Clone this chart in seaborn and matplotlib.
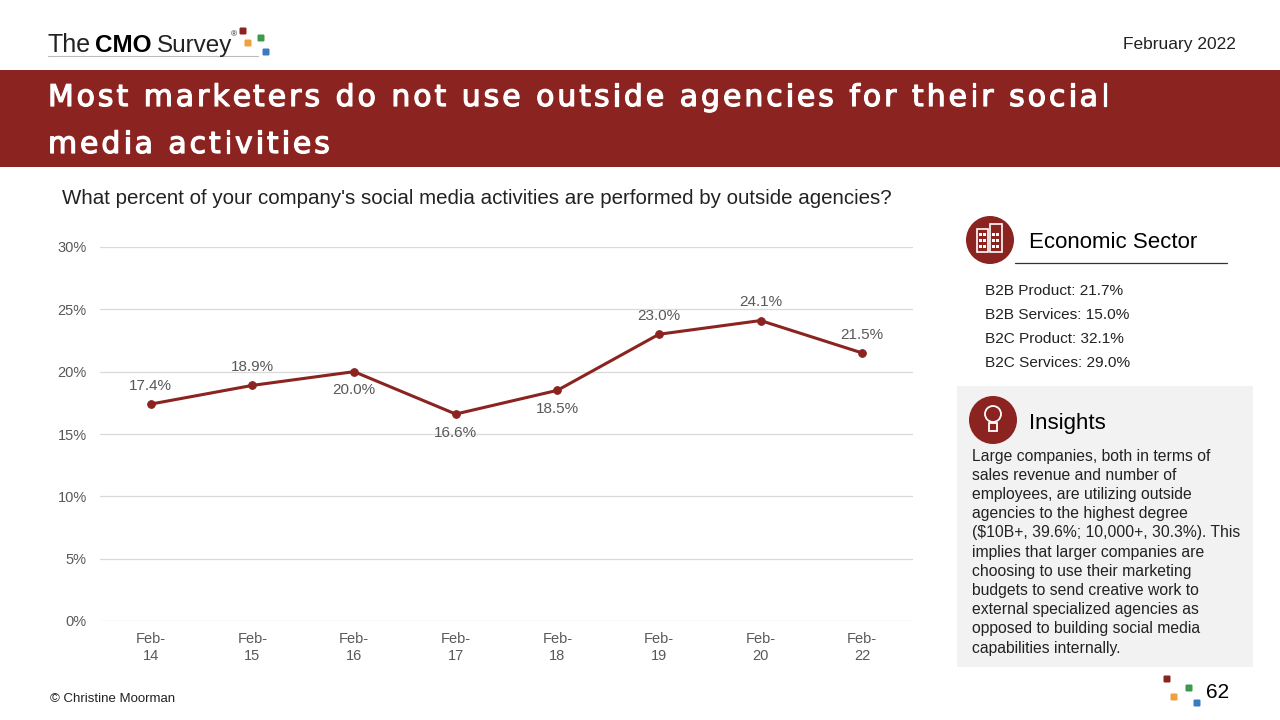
import pandas as pd
import seaborn as sns
import matplotlib.pyplot as plt
import matplotlib.patheffects as pe
from matplotlib.patches import Rectangle, Circle, FancyBboxPatch
from matplotlib.font_manager import FontProperties

# Data
years = ["Feb-\n14", "Feb-\n15", "Feb-\n16", "Feb-\n17", "Feb-\n18", "Feb-\n19", "Feb-\n20", "Feb-\n22"]
pct_outside = [17.4, 18.9, 20.0, 16.6, 18.5, 23.0, 24.1, 21.5]
label_above = [True, True, False, False, False, True, True, True]

title_lines = ["Most marketers do not use outside agencies for their social", "media activities"]
sectors = ["B2B Product: 21.7%", "B2B Services: 15.0%", "B2C Product: 32.1%", "B2C Services: 29.0%"]
insight_lines = [
    "Large companies, both in terms of",
    "sales revenue and number of",
    "employees, are utilizing outside",
    "agencies to the highest degree",
    "($10B+, 39.6%; 10,000+, 30.3%). This",
    "implies that larger companies are",
    "choosing to use their marketing",
    "budgets to send creative work to",
    "external specialized agencies as",
    "opposed to building social media",
    "capabilities internally.",
]

RED = "#8B2320"
GREY_TXT = "#595959"
SQUARES = [RED, "#F0A040", "#3E9A4A", "#3A7CC0"]

sns.set_style("white")
plt.rcParams['font.family'] = ['Liberation Sans', 'DejaVu Sans']

df = pd.DataFrame({"year": years, "pct": pct_outside})

fig = plt.figure(figsize=(12.8, 7.2), dpi=100)
renderer = fig.canvas.get_renderer()


def text_w(s, prop):
    # width in pixels, "|" sentinel keeps trailing spaces counted
    w_bar = renderer.get_text_width_height_descent("|", prop, ismath=False)[0]
    return renderer.get_text_width_height_descent(s + "|", prop, ismath=False)[0] - w_bar


def tracked_text(ax, x, y, s, prop, tracking, **kw):
    # the slide title has a little letter spacing, so place char by char
    for i, c in enumerate(s):
        if c != " ":
            ax.text(x + text_w(s[:i], prop) + i * tracking, y, c, fontproperties=prop, ha="left", **kw)


# overlay in pixel coordinates for the slide decoration
bg = fig.add_axes([0, 0, 1, 1], zorder=0)
bg.set_xlim(0, 1280)
bg.set_ylim(720, 0)
bg.axis("off")

# logo
bg.text(48, 52, "The", fontsize=18, color="#222222", va="baseline", ha="left")
bg.text(95, 52, "CMO", fontsize=17.5, color="black", fontweight="bold", va="baseline", ha="left")
bg.text(157, 52, "Survey", fontsize=17.5, color="#222222", va="baseline", ha="left")
bg.text(231, 36, "®", fontsize=6, color="#222222", va="baseline", ha="left")
bg.plot([48, 258], [56, 56], color="#BBBBBB", lw=0.8)
for (cx, cy), c in zip([(243, 31), (248, 43), (261, 38), (266, 52)], SQUARES):
    bg.add_patch(FancyBboxPatch((cx - 3.5, cy - 3.5), 7, 7, boxstyle="round,pad=0,rounding_size=1.2",
                                color=c, lw=0))
bg.text(1236, 45, "February 2022", fontsize=12.5, color="#222222", ha="right", va="center")

# title banner (regular weight thickened a little to look medium)
bg.add_patch(Rectangle((0, 70), 1280, 97, color=RED, lw=0))
title_prop = FontProperties(family="DejaVu Sans", size=21.5)
line1 = title_lines[0]
track = (1065 - text_w(line1, title_prop)) / (len(line1) - 1)
track = max(0.0, min(track, 3.0))
thick = [pe.withStroke(linewidth=0.9, foreground="white")]
for s, yb in zip(title_lines, [106, 153]):
    tracked_text(bg, 48, yb, s, title_prop, track, color="white", va="baseline", path_effects=thick)

bg.text(62, 199, "What percent of your company's social media activities are performed by outside agencies?",
        fontsize=14.8, color="#222222", va="center")

# economic sector panel
bg.add_patch(Circle((990, 240), 24, color=RED, lw=0))
for x0, y0, w, h in [(977, 229, 11, 23), (990, 224, 12, 28)]:
    bg.add_patch(Rectangle((x0, y0), w, h, fill=False, ec="white", lw=1.2))
for wx in [979, 983, 992, 996]:
    for wy in [233, 239, 245]:
        bg.add_patch(Rectangle((wx, wy), 3, 3, color="white", lw=0))
bg.text(1029, 242, "Economic Sector", fontsize=16, color="black", va="center")
bg.plot([1015, 1227], [263, 263], color="#333333", lw=0.9)
for i, s in enumerate(sectors):
    bg.text(985, 291 + 24 * i, s, fontsize=11.1, color="#222222", va="center")

# insights box
bg.add_patch(Rectangle((957, 386), 296, 281, color="#F2F2F2", lw=0))
bg.add_patch(Circle((993, 420), 24, color=RED, lw=0))
bg.add_patch(Circle((993, 414), 8, fill=False, ec="white", lw=1.3))
bg.add_patch(Rectangle((989, 423), 8, 8, fill=False, ec="white", lw=1.3))
bg.text(1029, 423, "Insights", fontsize=16, color="black", va="center")
for i, line in enumerate(insight_lines):
    bg.text(972, 456 + 19.2 * i, line, fontsize=11.3, color="#222222", va="center")

# footer
bg.text(50, 699, "© Christine Moorman", fontsize=9.5, color="#222222", va="center")
for (cx, cy), c in zip([(1167, 679), (1174, 697), (1189, 688), (1197, 703)], SQUARES):
    bg.add_patch(FancyBboxPatch((cx - 3.5, cy - 3.5), 7, 7, boxstyle="round,pad=0,rounding_size=1.2",
                                color=c, lw=0))
bg.text(1206, 693, "62", fontsize=15, color="black", va="center")

# main chart
ax = fig.add_axes([100 / 1280, 1 - 621 / 720, 813 / 1280, 374 / 720], zorder=1)
ax.patch.set_alpha(0)
sns.lineplot(data=df, x="year", y="pct", ax=ax, color=RED, linewidth=2.2,
             marker="o", markersize=5.5, markeredgecolor=RED, sort=False)
ax.set_xlim(-0.5, len(years) - 0.5)
ax.set_ylim(0, 30)
ax.set_yticks(range(0, 31, 5))
ax.set_yticklabels([f"{v}%" for v in range(0, 31, 5)])
ax.grid(axis="y", color="#D9D9D9", lw=0.9)
ax.set_axisbelow(True)
for sp in ax.spines.values():
    sp.set_visible(False)
ax.tick_params(axis="both", length=0, labelsize=10.5, labelcolor=GREY_TXT)
ax.tick_params(axis="x", pad=8)
ax.tick_params(axis="y", pad=9.5)
for lab in ax.get_xticklabels():
    lab.set_linespacing(1.3)
ax.set_xlabel("")
ax.set_ylabel("")

for i, (v, up) in enumerate(zip(pct_outside, label_above)):
    ax.annotate(f"{v:.1f}%", (i, v), xytext=(0, 13 if up else -13.5), textcoords="offset points",
                ha="center", va="center", fontsize=11, color=GREY_TXT)

fig.savefig("out.png", dpi=100)
